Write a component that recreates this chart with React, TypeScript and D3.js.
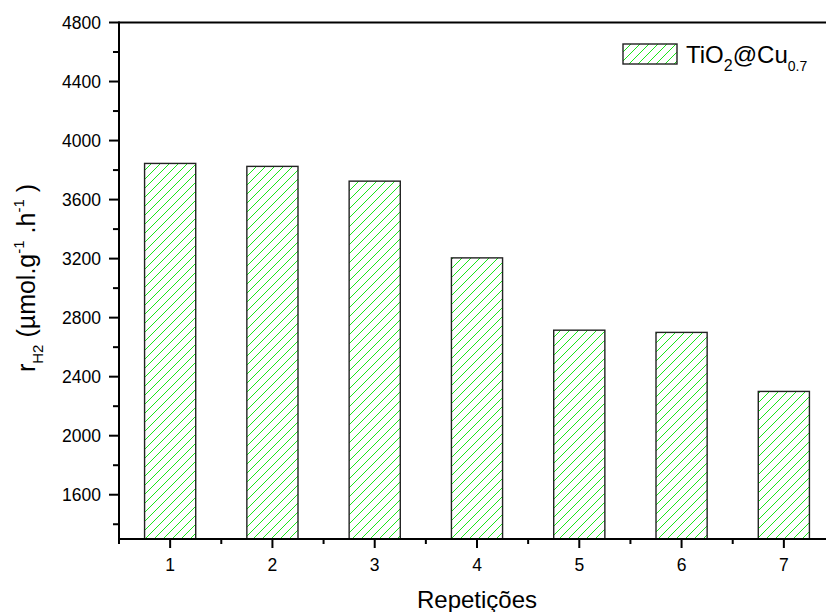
import React from "react";
import * as d3 from "d3";

// Photocatalytic H2 production rate across reuse cycles
const repetitions = [1, 2, 3, 4, 5, 6, 7];
const rateH2 = [3845, 3825, 3725, 3205, 2715, 2700, 2300];
const yMajorTicks = [1600, 2000, 2400, 2800, 3200, 3600, 4000, 4400, 4800];
const yMinorTicks = [1400, 1800, 2200, 2600, 3000, 3400, 3800, 4200, 4600];
const xMinorTicks = [0.5, 1.5, 2.5, 3.5, 4.5, 5.5, 6.5, 7.5];

const W = 826;
const H = 612;
const FONT = "'Liberation Sans', Arial, Helvetica, sans-serif";
const HATCH = "#19e619";

export default function App() {
  const left = 119;
  const right = 835;
  const top = 22.5;
  const bottom = 539;

  const x = d3.scaleLinear().domain([0.5, 7.5]).range([left, right]);
  const y = d3.scaleLinear().domain([1300, 4800]).range([bottom, top]);

  return (
    <div style={{ position: "fixed", left: 0, top: 0 }}>
      <svg width={W} height={H} viewBox={`0 0 ${W} ${H}`} style={{ display: "block" }}>
        <defs>
          <pattern id="hatch" patternUnits="userSpaceOnUse" width={9} height={9}>
            <path
              d="M-1,1 l2,-2 M0,9 l9,-9 M8,10 l2,-2"
              stroke={HATCH}
              strokeWidth={1}
              fill="none"
            />
          </pattern>
        </defs>
        <rect x={0} y={0} width={W} height={H} fill="#fff" />

        {/* bars */}
        {rateH2.map((v, i) => {
          const r = repetitions[i];
          const x0 = x(r - 0.25);
          const x1 = x(r + 0.25);
          return (
            <rect
              key={r}
              x={x0}
              y={y(v)}
              width={x1 - x0}
              height={bottom - y(v)}
              fill="url(#hatch)"
              stroke="#222"
              strokeWidth={1.4}
            />
          );
        })}

        {/* frame */}
        <line x1={left} x2={right} y1={top} y2={top} stroke="#000" strokeWidth={2} />
        <line x1={right} x2={right} y1={top} y2={bottom} stroke="#000" strokeWidth={2} />
        <line x1={left} x2={left} y1={top - 1} y2={bottom + 1} stroke="#000" strokeWidth={2} />
        <line x1={left - 1} x2={right} y1={bottom} y2={bottom} stroke="#000" strokeWidth={2} />

        {/* y ticks */}
        {yMajorTicks.map((t) => (
          <g key={t}>
            <line x1={left - 10} x2={left} y1={y(t)} y2={y(t)} stroke="#000" strokeWidth={2} />
            <text
              x={left - 18}
              y={y(t)}
              dy="0.36em"
              textAnchor="end"
              fontFamily={FONT}
              fontSize={17.5}
              fill="#000"
            >
              {t}
            </text>
          </g>
        ))}
        {yMinorTicks.map((t) => (
          <line key={t} x1={left - 6} x2={left} y1={y(t)} y2={y(t)} stroke="#000" strokeWidth={2} />
        ))}

        {/* x ticks */}
        {repetitions.map((t) => (
          <g key={t}>
            <line x1={x(t)} x2={x(t)} y1={bottom} y2={bottom + 9} stroke="#000" strokeWidth={2} />
            <text
              x={x(t)}
              y={bottom + 32}
              textAnchor="middle"
              fontFamily={FONT}
              fontSize={17.5}
              fill="#000"
            >
              {t}
            </text>
          </g>
        ))}
        {xMinorTicks.map((t) => (
          <line key={t} x1={x(t)} x2={x(t)} y1={bottom} y2={bottom + 5} stroke="#000" strokeWidth={2} />
        ))}

        {/* axis titles */}
        <text
          x={x(4)}
          y={608}
          textAnchor="middle"
          fontFamily={FONT}
          fontSize={24}
          fill="#000"
        >
          Repetições
        </text>
        <text
          transform="translate(35,278) rotate(-90)"
          textAnchor="middle"
          fontFamily={FONT}
          fontSize={25}
          fill="#000"
        >
          <tspan>r</tspan>
          <tspan fontSize={15} dy={8}>H2</tspan>
          <tspan dy={-8}> (µmol.g</tspan>
          <tspan fontSize={15} dy={-11}>-1</tspan>
          <tspan dy={11}> .h</tspan>
          <tspan fontSize={15} dy={-11}>-1</tspan>
          <tspan dy={11}> )</tspan>
        </text>

        {/* legend */}
        <rect x={623} y={44} width={54} height={20} fill="url(#hatch)" stroke="#222" strokeWidth={1.4} />
        <text x={686} y={62.5} fontFamily={FONT} fontSize={24} fill="#000">
          <tspan>TiO</tspan>
          <tspan fontSize={16} dy={8}>2</tspan>
          <tspan dy={-8}>@Cu</tspan>
          <tspan fontSize={14} dy={8}>0.7</tspan>
        </text>
      </svg>
    </div>
  );
}
